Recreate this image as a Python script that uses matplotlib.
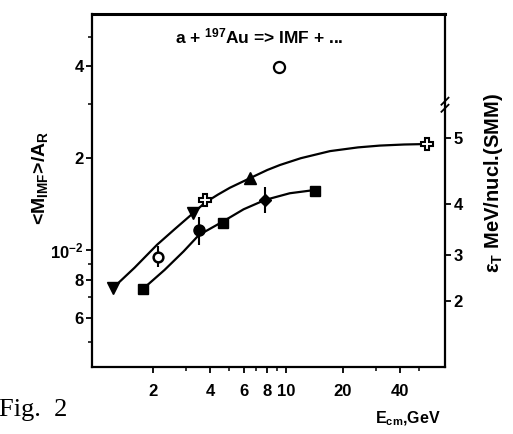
import matplotlib
matplotlib.use('Agg')
import matplotlib.pyplot as plt
from matplotlib.ticker import FixedLocator, NullFormatter, LogLocator

plt.rcParams['font.family'] = 'Liberation Sans'
plt.rcParams['font.weight'] = 'bold'
plt.rcParams['mathtext.fontset'] = 'custom'
plt.rcParams['mathtext.rm'] = 'Liberation Sans:bold'
plt.rcParams['mathtext.it'] = 'Liberation Sans:bold'
plt.rcParams['mathtext.bf'] = 'Liberation Sans:bold'
plt.rcParams['mathtext.default'] = 'rm'

# values (y in units of 10^-2)
upper_x = [1.23, 1.6, 2.1, 2.6, 3.25, 3.76, 4.4, 5.08, 6.48, 8.0, 9.32, 12, 17.1, 24, 31.3, 42, 55.4]
upper_y = [0.750, 0.875, 1.04, 1.17, 1.32, 1.43, 1.52, 1.60, 1.72, 1.83, 1.90, 2.0, 2.11, 2.17,
           2.20, 2.218, 2.226]
lower_x = [1.77, 2.3, 2.9, 3.49, 4.67, 6.0, 7.77, 10.5, 14.2]
lower_y = [0.745, 0.86, 0.99, 1.12, 1.24, 1.36, 1.459, 1.535, 1.573]

tri_down_x = [1.23, 3.25]
tri_down_y = [0.750, 1.322]
square_x = [1.77, 4.67, 14.2]
square_y = [0.745, 1.226, 1.56]
tri_up_x = [6.48]
tri_up_y = [1.722]
cross_x = [3.76, 55.4]
cross_y = [1.46, 2.226]
dot_x = [3.49]
dot_y = [1.16]
dot_err = [[0.12], [0.12]]
ocirc_x = [2.12]
ocirc_y = [0.95]
ocirc_err = [[0.07], [0.08]]
diam_x = [7.8]
diam_y = [1.46]
diam_err = [[0.14], [0.15]]
open_x = [9.2]
open_y = [3.98]

left_ticks = [0.6, 0.8, 1, 2, 4]
left_labels = ['6', '8', '10$^{-2}$', '2', '4']
x_ticks = [2, 4, 6, 8, 10, 20, 40]
x_labels = ['2', '4', '6', '8', '10', '20', '40']
right_pos = [0.681, 0.966, 1.415, 2.33]
right_labels = ['2', '3', '4', '5']

fig = plt.figure(figsize=(5.13, 4.34), dpi=100)
ax = fig.add_axes([0.1793, 0.1544, 0.6881, 0.8133])
ax.set_xscale('log')
ax.set_yscale('log')
ax.set_xlim(0.955, 68.9)
ax.set_ylim(0.4135, 5.94)

ax.plot(upper_x, upper_y, color='black', lw=1.6)
ax.plot(lower_x, lower_y, color='black', lw=1.6)
ax.plot(tri_down_x, tri_down_y, 'v', color='black', ms=8)
ax.plot(square_x, square_y, 's', color='black', ms=7)
ax.plot(tri_up_x, tri_up_y, '^', color='black', ms=8)
ax.plot(cross_x, cross_y, 'P', mfc='white', mec='black', mew=1.5, ms=9)
ax.errorbar(dot_x, dot_y, yerr=dot_err, fmt='o', color='black', ms=8, elinewidth=1.5, capsize=0)
ax.errorbar(ocirc_x, ocirc_y, yerr=ocirc_err, fmt='o', mfc='white', mec='black', mew=1.8,
            color='black', ms=7, elinewidth=1.5, capsize=0)
ax.plot(ocirc_x, ocirc_y, '.', color='black', ms=3)
ax.errorbar(diam_x, diam_y, yerr=diam_err, fmt='D', color='black', ms=6, elinewidth=1.5, capsize=0)
ax.plot(diam_x, diam_y, '+', color='white', ms=4, mew=1)
ax.plot(open_x, open_y, 'o', mfc='white', mec='black', mew=1.6, ms=8)

for s in ax.spines.values():
    s.set_linewidth(1.6)
ax.spines['top'].set_linewidth(2.2)

ax.xaxis.set_major_locator(FixedLocator(x_ticks))
ax.set_xticklabels(x_labels)
ax.xaxis.set_minor_locator(LogLocator(base=10, subs=(3, 5, 7, 9)))
ax.xaxis.set_minor_formatter(NullFormatter())
ax.yaxis.set_major_locator(FixedLocator(left_ticks))
ax.set_yticklabels(left_labels)
ax.yaxis.set_minor_locator(FixedLocator([0.5, 0.7, 0.9, 3, 5]))
ax.yaxis.set_minor_formatter(NullFormatter())
ax.tick_params(which='major', direction='out', length=4, width=1.3, labelsize=12, pad=2)
ax.tick_params(which='minor', direction='out', length=3, width=1.1)
ax.tick_params(axis='x', which='major', pad=8)

ax2 = ax.twinx()
ax2.set_yscale('log')
ax2.set_ylim(ax.get_ylim())
ax2.yaxis.set_major_locator(FixedLocator(right_pos))
ax2.set_yticklabels(right_labels)
ax2.yaxis.set_minor_formatter(NullFormatter())
ax2.yaxis.set_minor_locator(FixedLocator([]))
ax2.tick_params(direction='out', length=4, width=1.3, labelsize=12, pad=2)
for s in ax2.spines.values():
    s.set_visible(False)

# axis break marks on the right spine
for dy in (-0.012, 0.008):
    ax.plot([0.99, 1.01], [0.735 + dy, 0.755 + dy], transform=ax.transAxes,
            color='black', lw=1.3, clip_on=False)

fig.text(0.505, 0.915, 'a + $^{197}$Au => IMF + ...', ha='center', va='center', fontsize=12.5)
fig.text(0.078, 0.59, '<M$_{IMF}$>/A$_R$', rotation=90, ha='center', va='center', fontsize=14)
fig.text(0.962, 0.578, r'$\varepsilon_T$ MeV/nucl.(SMM)', rotation=90, ha='center', va='center',
         fontsize=14.5)
fig.text(0.795, 0.035, 'E$_{cm}$,GeV', ha='center', va='center', fontsize=11.5)
fig.text(0.132, 0.055, 'Fig.  2', ha='right', va='center', fontsize=19,
         family='Liberation Serif', weight='normal')

fig.savefig('out.png', dpi=100)
